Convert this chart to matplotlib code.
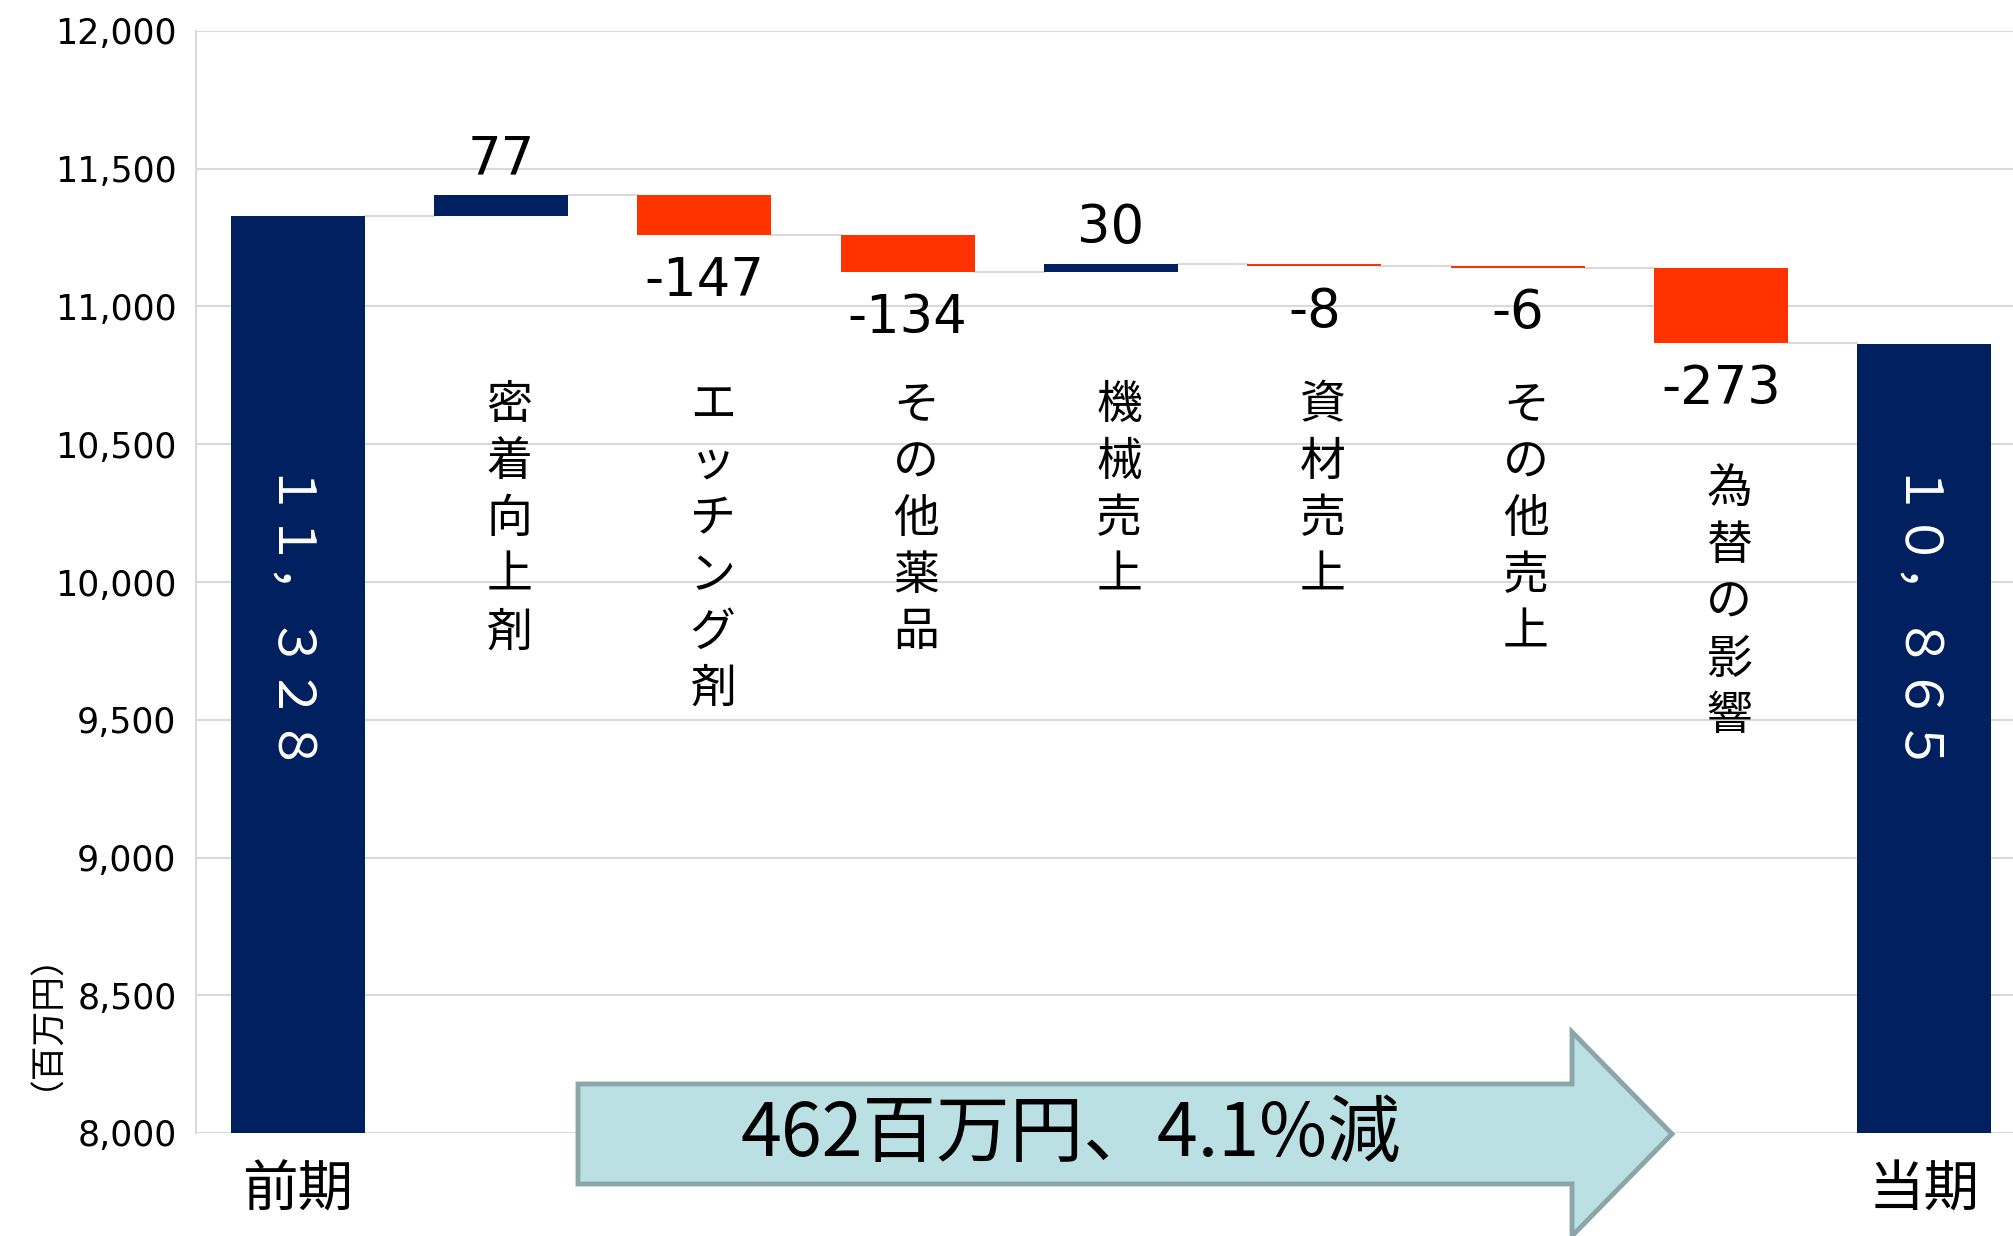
import matplotlib
matplotlib.use('Agg')
import matplotlib.pyplot as plt
from matplotlib.patches import Polygon
from matplotlib.ticker import FuncFormatter
import numpy as np

plt.rcParams['font.family'] = ['DejaVu Sans', 'Noto Sans CJK JP']
CJK = ['Noto Sans CJK JP', 'DejaVu Sans']

# --- data ---
categories = ['前期', '密着向上剤', 'エッチング剤', 'その他薬品', '機械売上',
              '資材売上', 'その他売上', '為替の影響', '当期']
start_value = 11328
end_value = 10865
changes = [77, -147, -134, 30, -8, -6, -273]
total_labels = ['１１，３２８', '１０，８６５']
summary_text = '462百万円、4.1%減'
unit_label = '（百万円）'
y_ticks = np.arange(8000, 12001, 500)

navy = '#002060'
red = '#FF3300'
grid_col = '#d9d9d9'

W, H = 2013, 1236
fig = plt.figure(figsize=(W / 100, H / 100), dpi=100)
ax = fig.add_axes([196 / W, 103 / H, 1830 / W, 1102 / H])
ax.set_ylim(8000, 12000)
ax.set_xlim(-0.5, 8.5)

x = np.arange(len(categories))
width = 0.66

# running totals
running = start_value
levels = [start_value]
bottoms = []
for c in changes:
    bottoms.append(min(running, running + c))
    running += c
    levels.append(running)

ax.bar([x[0], x[-1]], [start_value - 8000, end_value - 8000], bottom=8000,
       width=width, color=navy, zorder=3)
colors = [navy if c > 0 else red for c in changes]
ax.bar(x[1:-1], np.abs(changes), bottom=bottoms, width=width, color=colors, zorder=3)

# connectors
for i in range(len(categories) - 1):
    ax.plot([x[i] + width / 2, x[i + 1] - width / 2], [levels[i], levels[i]],
            color=grid_col, lw=1.5, zorder=2)

# value labels
for xi, c, b in zip(x[1:-1], changes, bottoms):
    if c > 0:
        ax.annotate(str(c), (xi, b + c), xytext=(0, 7), textcoords='offset points',
                    ha='center', va='bottom', fontsize=38)
    else:
        ax.annotate(str(c), (xi, b), xytext=(0, -14), textcoords='offset points',
                    ha='center', va='top', fontsize=38)

# vertical category labels
for xi, name in zip(x[1:-1], categories[1:-1]):
    top = 10425 if name == '為替の影響' else 10730
    ax.annotate('\n'.join(name), (xi, top), xytext=(6, 0), textcoords='offset points',
                ha='center', va='top', fontsize=33, linespacing=1.22,
                family=CJK, zorder=4)

# totals inside bars
for xi, lab in zip([x[0], x[-1]], total_labels):
    ax.annotate(lab, (xi, 9830), xytext=(-13, 0), textcoords='offset points',
                rotation=-90, ha='center', va='center', color='white',
                fontsize=37, family=CJK, zorder=4)

ax.set_yticks(y_ticks)
ax.yaxis.set_major_formatter(FuncFormatter(lambda v, p: f'{int(v):,}'))
ax.set_xticks([x[0], x[-1]])
ax.set_xticklabels([categories[0], categories[-1]], fontsize=40, family=CJK)
ax.tick_params(axis='y', length=0, labelsize=25, pad=14)
ax.tick_params(axis='x', length=0, pad=21)
ax.grid(axis='y', color=grid_col, lw=1.5, zorder=0)
ax.set_axisbelow(True)
for s in ['top', 'right', 'bottom']:
    ax.spines[s].set_visible(False)
ax.spines['left'].set_color(grid_col)
ax.spines['left'].set_linewidth(1.5)

fig.text(28 / W, 1 - 1003 / H, unit_label, rotation=90, ha='center', va='center',
         fontsize=25, family=CJK)

# summary arrow
pts = [(578, 1084), (1572, 1084), (1572, 1032), (1672, 1134), (1572, 1236),
       (1572, 1184), (578, 1184)]
arrow = Polygon([(px / W, 1 - py / H) for px, py in pts], closed=True,
                transform=fig.transFigure, facecolor='#BBE0E3', edgecolor='#8CA5A8',
                lw=3.5, zorder=5)
fig.add_artist(arrow)
fig.text(1071 / W, 1 - 1135 / H, summary_text, ha='center', va='center',
         fontsize=53, family=CJK, zorder=6)

fig.savefig('out.png', dpi=100)
